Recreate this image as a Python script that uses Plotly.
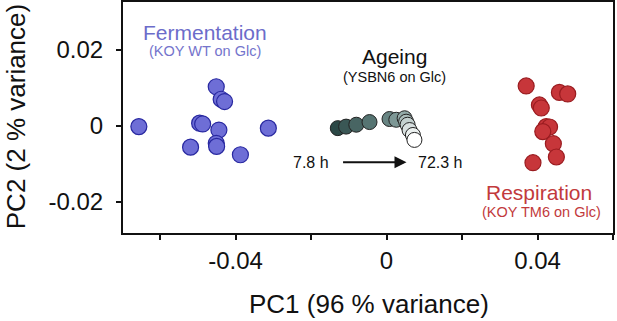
import plotly.graph_objects as go

# Fermentation (KOY WT on Glc)
ferm_pc1 = [-0.0656, -0.0451, -0.0438, -0.0429, -0.0495, -0.0487, -0.0444, -0.0451, -0.0450, -0.0519, -0.0387, -0.0313]
ferm_pc2 = [-0.0002, 0.0103, 0.0070, 0.0064, 0.0007, 0.0005, -0.0011, -0.0046, -0.0054, -0.0056, -0.0076, -0.0006]

# Ageing (YSBN6 on Glc), ordered from 7.8 h to 72.3 h
age_pc1 = [-0.0129, -0.0107, -0.0080, -0.0045, 0.0008, 0.0026, 0.0048, 0.0052, 0.0056, 0.0061, 0.0070, 0.0074]
age_pc2 = [-0.0006, -0.0002, 0.0003, 0.0010, 0.0018, 0.0016, 0.0020, 0.0011, 0.0003, -0.0011, -0.0024, -0.0037]

# Respiration (KOY TM6 on Glc)
resp_pc1 = [0.0370, 0.0458, 0.0480, 0.0405, 0.0410, 0.0419, 0.0423, 0.0432, 0.0414, 0.0442, 0.0450, 0.0388]
resp_pc2 = [0.0105, 0.0088, 0.0084, 0.0055, 0.0047, -0.0009, -0.0002, -0.0003, -0.0015, -0.0047, -0.0082, -0.0097]

x_tickvals = [-0.06, -0.04, -0.02, 0, 0.02, 0.04, 0.06]
x_ticktext = ["", "-0.04", "", "0", "", "0.04", ""]
y_tickvals = [-0.02, 0, 0.02]
y_ticktext = ["-0.02", "0", "0.02"]

FONT = "Liberation Sans, Arial, Helvetica, sans-serif"
fig = go.Figure()

fig.add_trace(go.Scatter(
    x=ferm_pc1, y=ferm_pc2, mode="markers",
    marker=dict(size=16, color="#6e6ed6", line=dict(color="#2828a0", width=1.2)),
))
fig.add_trace(go.Scatter(
    x=age_pc1, y=age_pc2, mode="markers",
    marker=dict(size=15, color=list(range(len(age_pc1))),
                colorscale=[[0, "#2c4846"], [0.3, "#5a7876"], [0.5, "#87a09e"], [0.75, "#c9d5d4"], [1, "#ffffff"]],
                line=dict(color="#222222", width=1)),
))
fig.add_trace(go.Scatter(
    x=resp_pc1, y=resp_pc2, mode="markers",
    marker=dict(size=16, color="#c7363a", line=dict(color="#9a1c20", width=1.2)),
))

ann = [
    dict(x=-0.0482, y=0.0247, text="Fermentation", font=dict(size=21, color="#6c6cca")),
    dict(x=-0.0482, y=0.0197, text="(KOY WT on Glc)", font=dict(size=14.5, color="#7474cc")),
    dict(x=0.0021, y=0.0182, text="Ageing", font=dict(size=21, color="#111111")),
    dict(x=0.0021, y=0.0129, text="(YSBN6 on Glc)", font=dict(size=14.5, color="#111111")),
    dict(x=-0.0199, y=-0.0097, text="7.8 h", font=dict(size=16, color="#111111")),
    dict(x=0.0143, y=-0.0097, text="72.3 h", font=dict(size=16, color="#111111")),
    dict(x=0.0405, y=-0.0176, text="Respiration", font=dict(size=21, color="#c23a3c")),
    dict(x=0.0411, y=-0.0226, text="(KOY TM6 on Glc)", font=dict(size=14.5, color="#c23a3c")),
]
for a in ann:
    fig.add_annotation(xref="x", yref="y", showarrow=False, font_family=FONT, **a)

fig.add_annotation(xref="x", yref="y", axref="x", ayref="y",
                   x=0.0053, y=-0.0096, ax=-0.0119, ay=-0.0096,
                   text="", showarrow=True, arrowhead=2, arrowsize=1.2, arrowwidth=2, arrowcolor="#111111")

# axis titles
fig.add_annotation(xref="paper", yref="paper", x=0.502, y=-0.307, xanchor="center", yanchor="middle",
                   text="PC1 (96 % variance)",
                   showarrow=False, font=dict(family=FONT, size=26, color="#111111"))
fig.add_annotation(xref="paper", yref="paper", x=-0.218, y=0.502, xanchor="center", yanchor="middle",
                   text="PC2 (2 % variance)", textangle=-90,
                   showarrow=False, font=dict(family=FONT, size=26, color="#111111"))

fig.update_layout(
    width=617, height=321, autosize=False,
    margin=dict(l=123, r=4, t=2, b=88),
    paper_bgcolor="white", plot_bgcolor="white",
    showlegend=False,
    font=dict(family=FONT, color="#111111"),
    xaxis=dict(range=[-0.0698, 0.0600], tickvals=x_tickvals, ticktext=x_ticktext, automargin=False,
               showgrid=False, zeroline=False, showline=True, mirror=True,
               linecolor="#111111", linewidth=2, ticks="outside", ticklen=5, tickwidth=2,
               tickcolor="#111111", tickfont=dict(size=24), ticklabelstandoff=0),
    yaxis=dict(range=[-0.0282, 0.0326], tickvals=y_tickvals, ticktext=y_ticktext, automargin=False,
               showgrid=False, zeroline=False, showline=True, mirror=True,
               linecolor="#111111", linewidth=2, ticks="outside", ticklen=5, tickwidth=2,
               tickcolor="#111111", tickfont=dict(size=24), ticklabelstandoff=8),
)

fig.write_html("out.html", config={"displayModeBar": False},
               post_script="document.body.style.margin='0';document.body.style.overflow='hidden';")
